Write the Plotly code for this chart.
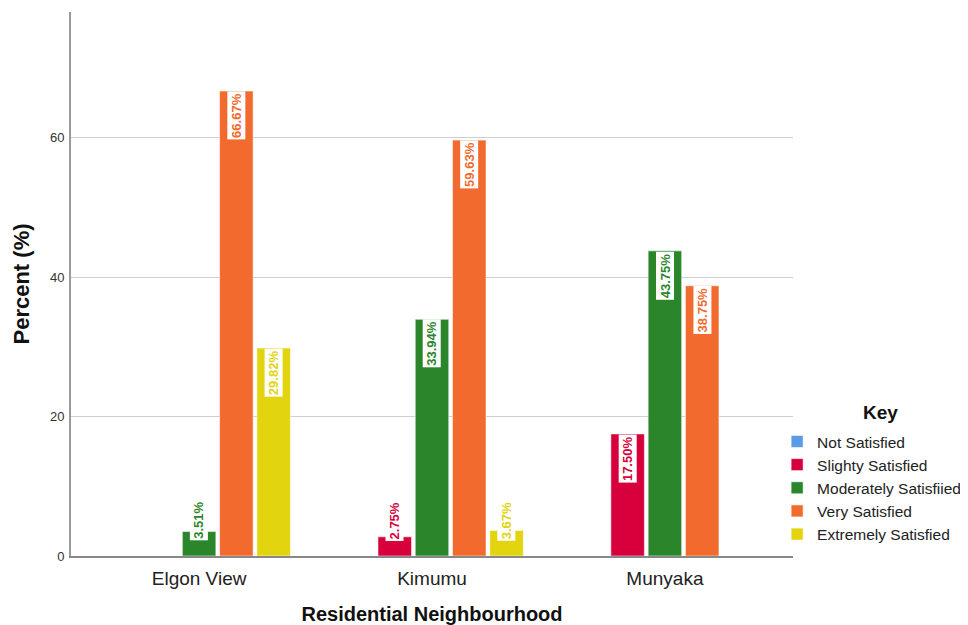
import plotly.graph_objects as go

categories = ["Elgon View", "Kimumu", "Munyaka"]
series_names = ["Not Satisfied", "Slighty Satisfied", "Moderately Satisfiied",
                "Very Satisfied", "Extremely Satisfied"]
not_satisfied = [0, 0, 0]
slighty_satisfied = [0, 2.75, 17.50]
moderately_satisfied = [3.51, 33.94, 43.75]
very_satisfied = [66.67, 59.63, 38.75]
extremely_satisfied = [29.82, 3.67, 0]
y_ticks = [0, 20, 40, 60]

series_values = [not_satisfied, slighty_satisfied, moderately_satisfied,
                 very_satisfied, extremely_satisfied]
colors = ["#5B9BE6", "#D7003C", "#2B862B", "#F26A2D", "#E2D40F"]

FONT = "Liberation Sans, Arial, sans-serif"
BARGAP = 0.2
GROUPGAP = 0.1

fig = go.Figure()
for name, vals, col in zip(series_names, series_values, colors):
    fig.add_trace(go.Bar(
        x=categories, y=vals, name=name,
        marker=dict(color=col, line=dict(color="rgba(255,255,255,0.55)", width=1)),
        hoverinfo="skip",
    ))

# value labels (rotated, white box) on top of bars
n = len(series_names)
slot = (1 - BARGAP) / n
min_label = 8.0
for i, (vals, col) in enumerate(zip(series_values, colors)):
    for j, v in enumerate(vals):
        if not v:
            continue
        fig.add_annotation(
            x=j + (i - (n - 1) / 2) * slot, y=max(v, min_label),
            xref="x", yref="y", text=f"{v:.2f}%", textangle=-90,
            showarrow=False, xanchor="center", yanchor="top", yshift=0,
            bgcolor="white", borderpad=1,
            font=dict(family=FONT, size=13, color=col, weight="bold"),
        )

# legend heading
fig.add_annotation(
    x=1.1205, y=0.2629, xref="paper", yref="paper", text="<b>Key</b>",
    showarrow=False, xanchor="center", yanchor="middle",
    font=dict(family=FONT, size=19, color="#111111"),
)

fig.update_layout(
    width=960, height=617,
    margin=dict(l=63, r=175, t=4, b=69, autoexpand=False),
    paper_bgcolor="white", plot_bgcolor="white",
    barmode="group", bargap=BARGAP, bargroupgap=GROUPGAP,
    font=dict(family=FONT, color="#222222"),
    showlegend=True,
    legend=dict(
        x=0.978, xanchor="left", y=0.241, yanchor="top",
        font=dict(size=15.5, color="#222222"),
        itemwidth=30, tracegroupgap=0, traceorder="normal",
        bgcolor="rgba(0,0,0,0)",
    ),
    xaxis=dict(
        range=[-0.55, 2.55],
        showline=True, linecolor="#888888", linewidth=2,
        ticks="", tickfont=dict(size=19, color="#222222"), ticklabelstandoff=4,
        title=dict(text="<b>Residential Neighbourhood</b>", font=dict(size=20, color="#111111"), standoff=22),
        showgrid=False, fixedrange=True,
    ),
    yaxis=dict(
        range=[0, 78.0],
        tickvals=y_ticks, ticktext=[str(t) for t in y_ticks],
        showline=True, linecolor="#9a9a9a", linewidth=2,
        showgrid=True, gridcolor="#cfcfcf", gridwidth=1,
        zeroline=False,
        ticks="", tickfont=dict(size=13, color="#333333"), ticklabelstandoff=2,
        title=dict(text="<b>Percent (%)</b>", font=dict(size=22, color="#111111"), standoff=14),
        fixedrange=True,
    ),
)

fig.write_html("out.html")
